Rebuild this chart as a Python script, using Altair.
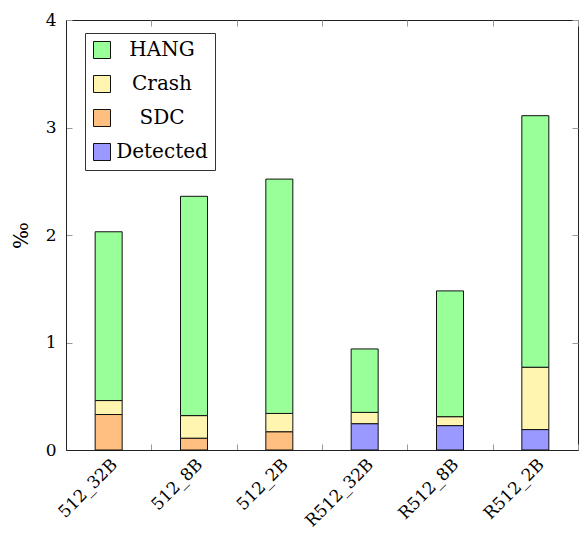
import altair as alt
import pandas as pd

categories = ["512_32B", "512_8B", "512_2B", "R512_32B", "R512_8B", "R512_2B"]
detected = [0.0, 0.0, 0.0, 0.245, 0.227, 0.19]
sdc = [0.33, 0.11, 0.17, 0.0, 0.0, 0.0]
crash = [0.13, 0.21, 0.17, 0.105, 0.083, 0.58]
hang = [1.57, 2.04, 2.18, 0.59, 1.17, 2.34]

series_names = ["Detected", "SDC", "Crash", "HANG"]
series_values = [detected, sdc, crash, hang]
legend_order = ["HANG", "Crash", "SDC", "Detected"]
colors = ["#99FF99", "#FFF5B1", "#FFBF80", "#9999FF"]
y_ticks = [0, 1, 2, 3, 4]

rows = []
for order, (name, vals) in enumerate(zip(series_names, series_values)):
    for cat, v in zip(categories, vals):
        if v > 0:
            rows.append({"cat": cat, "type": name, "value": v, "ord": order})
df = pd.DataFrame(rows)

SERIF = "DejaVu Serif"
W, H = 512, 430

chart = alt.Chart(df).mark_bar(size=27, stroke="#111", strokeWidth=1, opacity=1).encode(
    x=alt.X("cat:N", sort=categories, scale=alt.Scale(paddingInner=0, paddingOuter=0),
            axis=alt.Axis(title=None, labelAngle=-45, labelAlign="right", labelBaseline="top",
                          labelFont=SERIF, labelFontSize=17, labelPadding=6, labelColor="black",
                          labelOverlap=False, ticks=False, tickBand="extent",
                          grid=True, gridColor="#999", gridDash=[6, H - 12], gridWidth=1,
                          domainColor="#222")),
    y=alt.Y("value:Q", stack="zero", scale=alt.Scale(domain=[0, 4], nice=False),
            axis=alt.Axis(title="‰", values=y_ticks, ticks=False, labelFont=SERIF,
                          labelFontSize=17, labelPadding=10, labelColor="black",
                          titleFont=SERIF, titleFontSize=20, titleFontWeight="normal",
                          titleColor="black", titlePadding=14,
                          grid=True, gridColor="#999", gridDash=[6, W - 12], gridWidth=1,
                          domainColor="#222")),
    color=alt.Color("type:N", scale=alt.Scale(domain=legend_order, range=colors),
                    legend=alt.Legend(title=None, orient="none", legendX=19, legendY=13,
                                      fillColor="white", strokeColor="#333", padding=7,
                                      symbolType="square", symbolSize=289,
                                      symbolStrokeColor="#111", symbolStrokeWidth=1,
                                      symbolOpacity=1,
                                      labelFont=SERIF, labelFontSize=20, labelColor="black",
                                      labelAlign="center", labelOffset=50, rowPadding=12)),
    order=alt.Order("ord:Q", sort="ascending"),
).properties(
    width=W, height=H,
    autosize=alt.AutoSizeParams(type="none"),
    padding={"left": 58, "top": 12, "right": 1, "bottom": 80},
).configure_view(stroke="#222", strokeWidth=1)

chart.save("out.html", embed_options={"renderer": "svg", "actions": False})
